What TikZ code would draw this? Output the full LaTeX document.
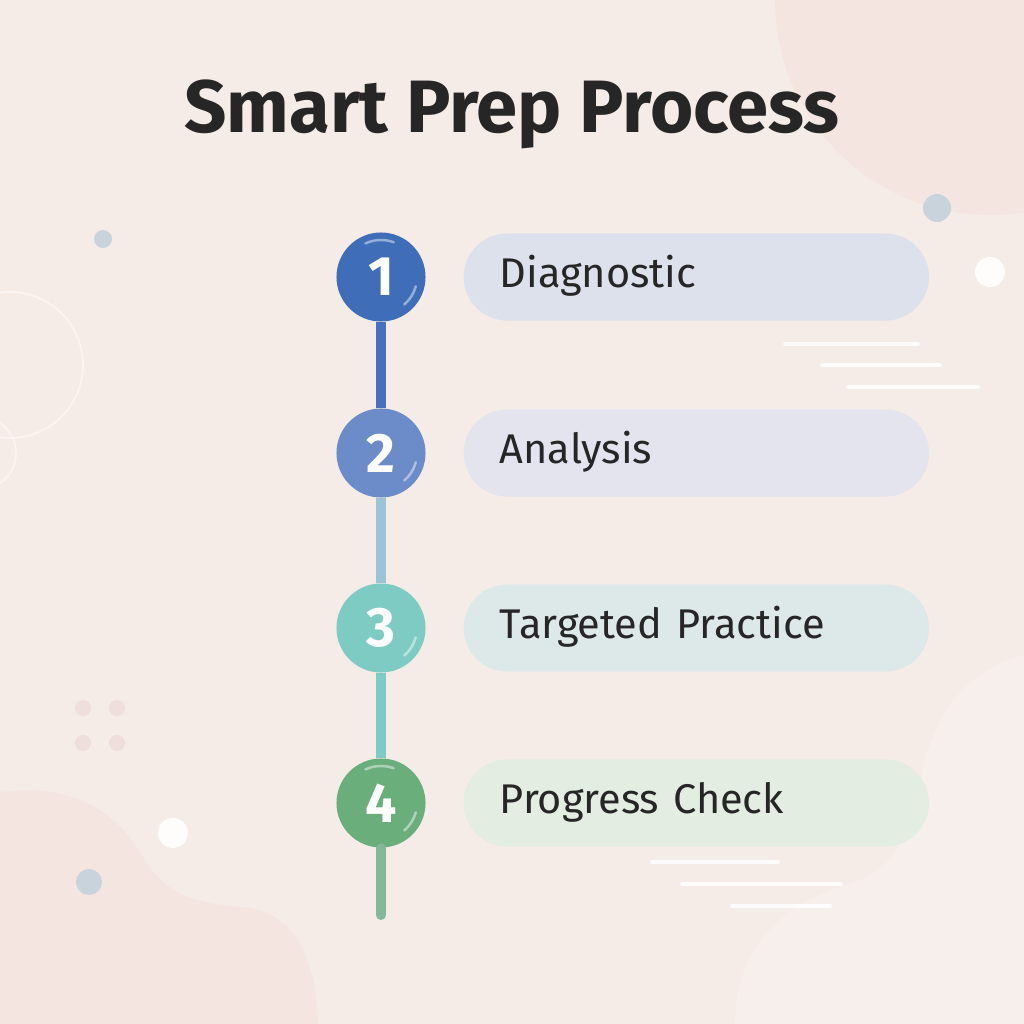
\documentclass[tikz,border=0pt]{standalone}
\usepackage{fontspec}
\setmainfont{Fira Sans}
\newfontfamily\titlefont{Fira Sans}[UprightFont=* Bold]
\newfontfamily\numfont{Fira Sans}[UprightFont=* Bold]
\usetikzlibrary{calc}
\definecolor{bg}{HTML}{F5EBE7}
\definecolor{blobpink}{HTML}{F4E5E1}
\definecolor{blobwhite}{HTML}{F7EFEC}
\definecolor{dotblue}{HTML}{C8D3DC}
\definecolor{dotpink}{HTML}{EEDFDC}
\definecolor{txt}{HTML}{262626}
\definecolor{cA}{HTML}{3F6DB8}
\definecolor{cB}{HTML}{6B8BC9}
\definecolor{cC}{HTML}{7ECBC4}
\definecolor{cD}{HTML}{6AAE7C}
\definecolor{sA}{HTML}{4870BF}
\definecolor{sB}{HTML}{9CC4D6}
\definecolor{sC}{HTML}{7CCBC4}
\definecolor{sD}{HTML}{84B898}
\definecolor{pA}{HTML}{DCE1EB}
\definecolor{pB}{HTML}{E3E4EE}
\definecolor{pC}{HTML}{DDE8E8}
\definecolor{pD}{HTML}{E3EDE2}
\tikzset{
  stepdot/.style={circle, fill=#1, minimum size=0.89cm, inner sep=0pt,
    text=white, font=\numfont\fontsize{15.8}{16}\selectfont},
  pill/.style={rectangle, rounded corners=0.435cm, fill=#1, minimum width=4.65cm,
    minimum height=0.87cm, inner xsep=0.36cm, inner ysep=0pt,
    text width=3.93cm, align=left, text height=0.28cm, text depth=0.07cm,
    text=txt, font=\fontsize{11.8}{13}\selectfont},
  seg/.style={line width=0.1cm, draw=#1},
  whiteline/.style={line width=0.04cm, draw=white, opacity=0.85, line cap=round},
  shine/.style={line width=0.025cm, draw=white, opacity=0.45, line cap=round},
}
\begin{document}
\begin{tikzpicture}[x=0.01cm, y=-0.01cm]
\useasboundingbox (0,0) rectangle (1024,1024);
\fill[bg] (0,0) rectangle (1024,1024);
% background blobs
\fill[blobpink] (990,0) circle (215);
\fill[blobpink] (0,792) .. controls (60,785) and (110,800) .. (145,860)
  .. controls (170,900) and (200,903) .. (250,908)
  .. controls (290,915) and (315,950) .. (318,1024) -- (0,1024) -- cycle;
\fill[blobwhite] (735,1024) .. controls (735,940) and (790,900) .. (860,880)
  .. controls (910,860) and (915,800) .. (925,760)
  .. controls (940,700) and (980,665) .. (1024,655) -- (1024,1024) -- cycle;
\draw[white, line width=0.02cm, opacity=0.45] (10,365) circle (73);
\draw[white, line width=0.02cm, opacity=0.45] (-20,453) circle (36);
% dots
\fill[dotblue] (103,239) circle (9);
\fill[dotblue] (937,208) circle (14);
\fill[white, opacity=0.9] (990,272) circle (15);
\fill[white, opacity=0.9] (173,833) circle (15);
\fill[dotblue] (89,882) circle (13);
\foreach \px/\py in {83/708,117/708,83/743,117/743}
  \fill[dotpink] (\px,\py) circle (8);
% white lines
\draw[whiteline] (785,344) -- (918,344);
\draw[whiteline] (822,365) -- (940,365);
\draw[whiteline] (848,387) -- (978,387);
\draw[whiteline] (652,862) -- (778,862);
\draw[whiteline] (682,884) -- (841,884);
\draw[whiteline] (732,906) -- (830,906);
% title
\node[anchor=base, text=txt, font=\titlefont\fontsize{21.1}{24}\selectfont, inner sep=0pt]
  (title) at (512,132) {Smart Prep Process};
% steps
\node[stepdot=cA] (n1) at (381,277) {1};
\node[stepdot=cB] (n2) at (381,453) {2};
\node[stepdot=cC] (n3) at (381,628) {3};
\node[stepdot=cD] (n4) at (381,803) {4};
\coordinate (tail) at (381,915);
\draw[seg=sA] (n1.south) -- (n2.north);
\draw[seg=sB] (n2.south) -- (n3.north);
\draw[seg=sC] (n3.south) -- (n4.north);
\draw[seg=sD, line cap=round] (n4.south) -- (tail);
% shine
\foreach \n in {n1,n2,n3,n4}{
  \draw[shine] ($(\n)+(15:36)$) arc[start angle=15, end angle=50, radius=36];
}
\draw[shine] ($(n1)+(-115:37)$) arc[start angle=-115, end angle=-70, radius=37];
\draw[shine] ($(n4)+(-115:37)$) arc[start angle=-115, end angle=-70, radius=37];
% pills
\node[pill=pA, anchor=west] (p1) at (463,277) {Diagnostic};
\node[pill=pB, anchor=west] (p2) at (463,453) {Analysis};
\node[pill=pC, anchor=west] (p3) at (463,628) {Targeted Practice};
\node[pill=pD, anchor=west] (p4) at (463,803) {Progress Check};
\end{tikzpicture}
\end{document}
